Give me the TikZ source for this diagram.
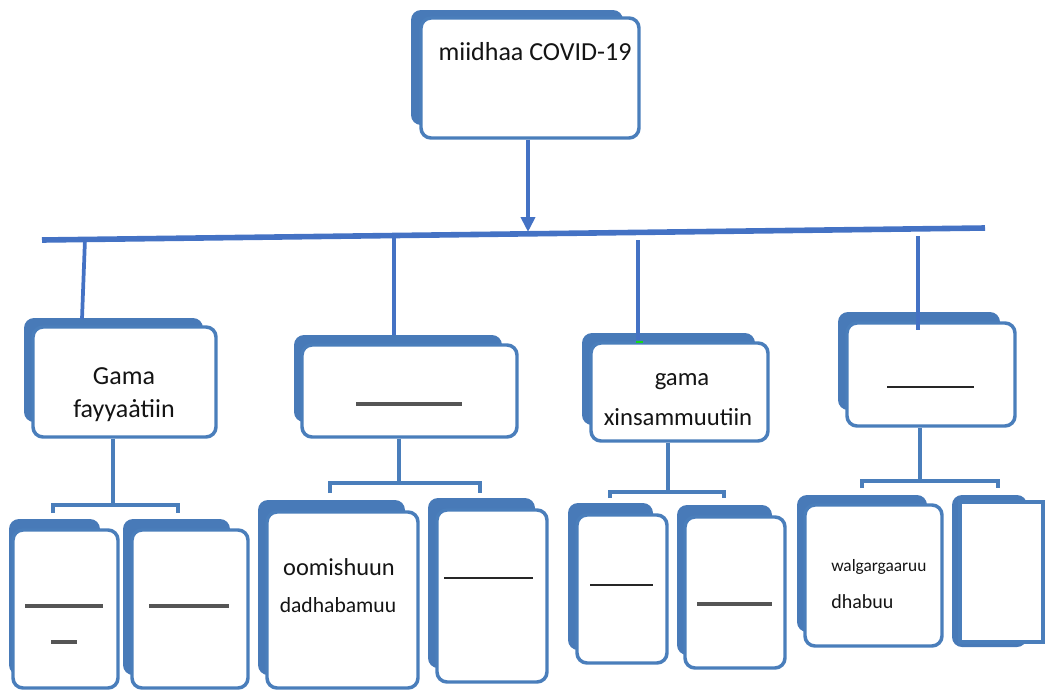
\documentclass[tikz,border=0pt]{standalone}
\usepackage{fontspec}
\setmainfont{Carlito}
\usetikzlibrary{arrows.meta,fit}
\pgfdeclarelayer{bg}
\pgfsetlayers{bg,main}
\definecolor{bdr}{RGB}{74,126,187}
\definecolor{shd}{RGB}{72,122,184}
\definecolor{lnk}{RGB}{68,114,196}
\definecolor{uline}{RGB}{85,85,85}
\definecolor{txt}{RGB}{20,20,20}
\definecolor{tick}{RGB}{20,220,20}
\tikzset{
  frame/.style={draw=bdr, line width=2.6pt, fill=white, rounded corners=7.5pt, inner sep=0pt},
  sqframe/.style={draw=bdr, line width=2.8pt, fill=white, inner sep=0pt},
  shad/.style={fill=shd, rounded corners=7.5pt},
  conn/.style={draw=bdr, line width=2.4pt},
  link/.style={draw=lnk, line width=2.8pt},
  bar/.style={draw=lnk, line width=4.2pt},
  lbl/.style={text=txt, inner sep=0pt},
  ul/.style={draw=uline, line width=2.6pt},
  ulk/.style={draw=black!85, line width=1.8pt},
}
\begin{document}
\begin{tikzpicture}[x=0.75pt,y=-0.75pt]
\useasboundingbox (0,0) rectangle (1047,690);
% frames
\node[frame, fit={(421,18)(639,138)}] (T) {};
\node[frame, fit={(33,327)(216,437)}] (A) {};
\node[frame, fit={(302,345)(517,437)}] (B) {};
\node[frame, fit={(591,343)(768,441)}] (C) {};
\node[frame, fit={(847,323)(1015,426)}] (D) {};
\node[frame, fit={(13,530)(118,688)}] (A1) {};
\node[frame, fit={(132,530)(248,688)}] (A2) {};
\node[frame, fit={(267,512)(418,688)}] (B1) {};
\node[frame, fit={(437,510)(547,682)}] (B2) {};
\node[frame, fit={(577,515)(667,663)}] (C1) {};
\node[frame, fit={(685,517)(785,668)}] (C2) {};
\node[frame, fit={(805,505)(942,646)}] (D1) {};
\node[sqframe, fit={(960,502)(1043,642)}] (D2) {};
% shadows
\begin{pgfonlayer}{bg}
\fill[shad] (411,10) rectangle (623,125);
\fill[shad] (24,318) rectangle (203,422);
\fill[shad] (294,335) rectangle (502,422);
\fill[shad] (582,333) rectangle (755,425);
\fill[shad] (838,312) rectangle (1000,410);
\fill[shad] (9,519) rectangle (100,675);
\fill[shad] (123,519) rectangle (230,675);
\fill[shad] (258,500) rectangle (405,675);
\fill[shad] (428,498) rectangle (535,668);
\fill[shad] (568,503) rectangle (653,650);
\fill[shad] (677,505) rectangle (772,655);
\fill[shad] (797,495) rectangle (927,632);
\fill[shad] (952,495) rectangle (1027,647);
\end{pgfonlayer}
% texts
\node[lbl, font=\fontsize{19.5pt}{23pt}\selectfont] (tT) at (535,52) {miidhaa COVID-19};
\node[lbl, font=\fontsize{19.5pt}{23pt}\selectfont] (tA1) at (124,376) {Gama};
\node[lbl, font=\fontsize{19.5pt}{23pt}\selectfont] (tA2) at (124,411) {fayyaȧtiin};
\node[lbl, font=\fontsize{18.5pt}{22pt}\selectfont] (tC1) at (682,382) {gama};
\node[lbl, font=\fontsize{18.5pt}{22pt}\selectfont] (tC2) at (678,417) {xinsammuutiin};
\node[lbl, font=\fontsize{18.3pt}{22pt}\selectfont] (tB1) at (339,567) {oomishuun};
\node[lbl, font=\fontsize{16.2pt}{20pt}\selectfont] (tB2) at (338,605) {dadhabamuu};
\node[lbl, anchor=west, font=\fontsize{13pt}{16pt}\selectfont] (tD1) at (831,567) {walgargaaruu};
\node[lbl, anchor=west, font=\fontsize{15pt}{18pt}\selectfont] (tD2) at (831,602) {dhabuu};
% blank underscores
\draw[ul] (356,404) -- (462,404);
\draw[ul] (25,606) -- (103,606);
\draw[ul] (51,642) -- (77,642);
\draw[ul] (149,606) -- (229,606);
\draw[ulk] (444,578) -- (533,578);
\draw[ulk] (590,585) -- (653,585);
\draw[ul] (697,604) -- (772,604);
\draw[ulk] (887,387) -- (974,387);
% main arrow and bar
\coordinate (tip) at (528,232);
\draw[link,-{Triangle[length=11.25pt,width=10.5pt]}] (T.south -| tip) -- (tip);
\coordinate (barL) at (42,240);
\coordinate (barR) at (985,228);
\draw[bar] (barL) -- (barR);
% drops
\coordinate (d1t) at (85,239);  \coordinate (d1b) at (82,319);
\coordinate (d2t) at (394,235); \coordinate (d2b) at (394,335);
\coordinate (d3t) at (638,240); \coordinate (d3b) at (638,340);
\coordinate (d4t) at (918,236); \coordinate (d4b) at (918,330);
\draw[link] (d1t) -- (d1b);
\draw[link] (d2t) -- (d2b);
\draw[link] (d3t) -- (d3b);
\draw[link] (d4t) -- (d4b);
\draw[tick, line width=1.5pt] (636,341.5) -- (643,341.5);
% sub connectors
\coordinate (jA) at (113,505); \coordinate (aL) at (53,513); \coordinate (aR) at (178,513);
\draw[conn] (A.south -| jA) -- (jA);
\draw[conn] (aL) -- (aL |- jA) -- (aR |- jA) -- (aR);
\coordinate (jB) at (399,483); \coordinate (bL) at (330,493); \coordinate (bR) at (480,493);
\draw[conn] (B.south -| jB) -- (jB);
\draw[conn] (bL) -- (bL |- jB) -- (bR |- jB) -- (bR);
\coordinate (jC) at (668,492); \coordinate (cL) at (610,498); \coordinate (cR) at (724,498);
\draw[conn] (C.south -| jC) -- (jC);
\draw[conn] (cL) -- (cL |- jC) -- (cR |- jC) -- (cR);
\coordinate (jD) at (920,481); \coordinate (dL) at (862,488); \coordinate (dR) at (998,488);
\draw[conn] (D.south -| jD) -- (jD);
\draw[conn] (dL) -- (dL |- jD) -- (dR |- jD) -- (dR);
\end{tikzpicture}
\end{document}
